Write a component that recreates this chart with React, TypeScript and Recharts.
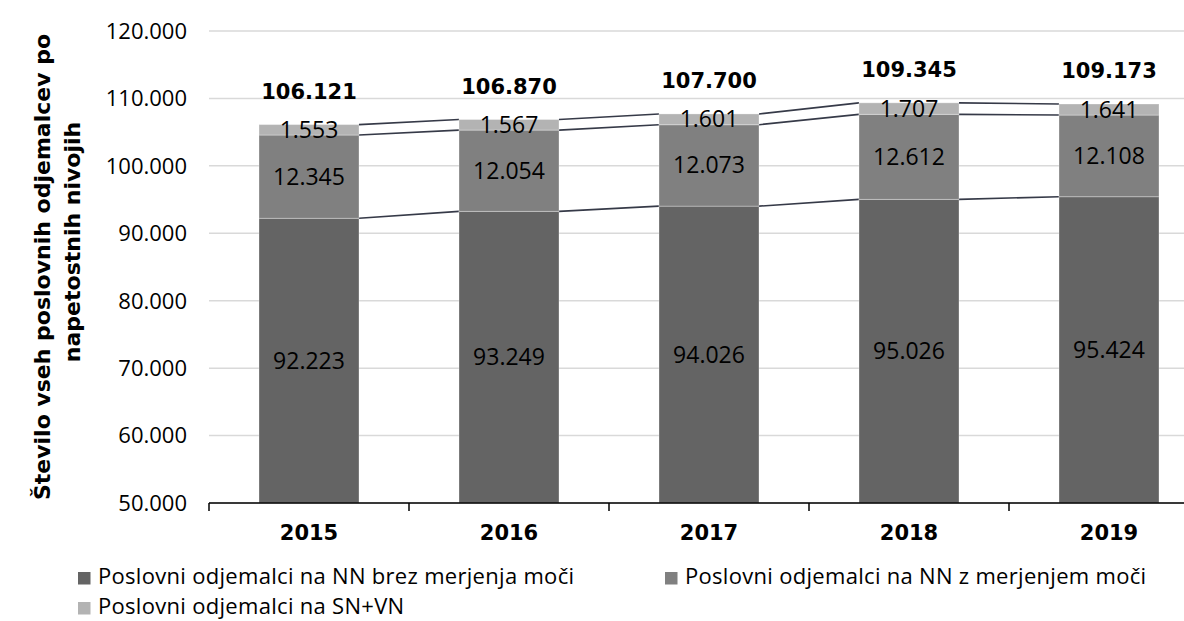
import React from 'react';
import { BarChart, Bar, XAxis, YAxis, CartesianGrid, Legend, LabelList } from 'recharts';

const years = ['2015', '2016', '2017', '2018', '2019'];
const nnBrezMerjenja = [92223, 93249, 94026, 95026, 95424];
const nnZMerjenjem = [12345, 12054, 12073, 12612, 12108];
const snVn = [1553, 1567, 1601, 1707, 1641];
const yTicks = [50000, 60000, 70000, 80000, 90000, 100000, 110000, 120000];
const seriesNames = [
  'Poslovni odjemalci na NN brez merjenja moči',
  'Poslovni odjemalci na NN z merjenjem moči',
  'Poslovni odjemalci na SN+VN',
];
const seriesColors = ['#646464', '#808080', '#b3b3b3'];

const Y_MIN = 50000;
const Y_MAX = 120000;

const REG = '"Open Sans", sans-serif';
const BOLD = '"DejaVu Sans", sans-serif';

const data = years.map((year, i) => ({
  year,
  nnBrez: nnBrezMerjenja[i],
  nnZ: nnZMerjenjem[i],
  snVn: snVn[i],
  total: nnBrezMerjenja[i] + nnZMerjenjem[i] + snVn[i],
}));

// cumulative top of each stacked layer, used for the series lines
const layerTops = [
  nnBrezMerjenja,
  nnBrezMerjenja.map((v, i) => v + nnZMerjenjem[i]),
  nnBrezMerjenja.map((v, i) => v + nnZMerjenjem[i] + snVn[i]),
];
const layerValues = [nnBrezMerjenja, nnZMerjenjem, snVn];

const fmt = (v: number) => String(v).replace(/\B(?=(\d{3})+(?!\d))/g, '.');

// bar segment + series line to the next bar (bar is half the band, so next bar starts 2 widths on)
const makeShape = (layer: number) => (props: any) => {
  const { x, y, width, height, index, fill, background } = props;
  const tops = layerTops[layer];
  let k: number;
  if (background && background.height) k = background.height / (Y_MAX - Y_MIN);
  else if (layer === 0) k = height / (tops[index] - Y_MIN);
  else k = height / layerValues[layer][index];
  const hasNext = index < tops.length - 1;
  return (
    <g>
      <rect x={x} y={y} width={width} height={height} fill={fill} stroke="#ffffff" strokeOpacity={0.3} strokeWidth={1} />
      {hasNext && (
        <line
          x1={x + width}
          y1={y}
          x2={x + 2 * width}
          y2={y + (tops[index] - tops[index + 1]) * k}
          stroke="#363a48"
          strokeWidth={1.6}
        />
      )}
    </g>
  );
};

const box = (props: any) => {
  const vb = props.viewBox && props.viewBox.width !== undefined ? props.viewBox : props;
  return { x: Number(vb.x), y: Number(vb.y), width: Number(vb.width), height: Number(vb.height) };
};

const CenterLabel = (props: any) => {
  const { x, y, width, height } = box(props);
  return (
    <text x={x + width / 2} y={y + height / 2 + 8} textAnchor="middle" fontFamily={REG} fontSize={23} fill="#000">
      {fmt(Number(props.value))}
    </text>
  );
};

const TotalLabel = (props: any) => {
  const { x, y, width } = box(props);
  return (
    <text x={x + width / 2} y={y - 26} textAnchor="middle" fontFamily={BOLD} fontWeight="bold" fontSize={21} fill="#000">
      {fmt(Number(props.value))}
    </text>
  );
};

const YearTick = (props: any) => {
  const { x, y, payload, index, width, visibleTicksCount } = props;
  const step = width && visibleTicksCount ? width / visibleTicksCount : 200;
  const last = index === (visibleTicksCount || years.length) - 1;
  return (
    <g>
      <line x1={x - step / 2} x2={x - step / 2} y1={y} y2={y + 8} stroke="#000" strokeWidth={1.5} />
      {last && <line x1={x + step / 2} x2={x + step / 2} y1={y} y2={y + 8} stroke="#000" strokeWidth={1.5} />}
      <text x={x} y={y + 37} textAnchor="middle" fontFamily={BOLD} fontWeight="bold" fontSize={21} fill="#000">
        {payload.value}
      </text>
    </g>
  );
};

const YTitle = (props: any) => {
  const vb = props.viewBox || { x: 0, y: 31, width: 209, height: 472 };
  const cy = vb.y + vb.height / 2;
  const l1x = vb.x + 50;
  const l2x = vb.x + 80;
  const l2y = cy - 25;
  return (
    <g fontFamily={BOLD} fontWeight="bold" fontSize={22} fill="#000">
      <text x={l1x} y={cy} textAnchor="middle" transform={`rotate(-90, ${l1x}, ${cy})`}>
        Število vseh poslovnih odjemalcev po
      </text>
      <text x={l2x} y={l2y} textAnchor="middle" transform={`rotate(-90, ${l2x}, ${l2y})`}>
        napetostnih nivojih
      </text>
    </g>
  );
};

const LEGEND_H = 66;

const LegendBox = () => {
  const items = [
    { x: 78, y: 8 },
    { x: 665, y: 8 },
    { x: 78, y: 38 },
  ];
  return (
    <svg width={1184} height={LEGEND_H} style={{ display: 'block' }}>
      {seriesNames.map((name, i) => (
        <g key={name}>
          <rect x={items[i].x} y={items[i].y + 9} width={12.5} height={12.5} fill={seriesColors[i]} />
          <text x={items[i].x + 20} y={items[i].y + 21} fontFamily={REG} fontSize={22} letterSpacing={0.3} fill="#000">
            {name}
          </text>
        </g>
      ))}
    </svg>
  );
};

export default function App() {
  return (
    <div style={{ position: 'absolute', left: 0, top: 0, width: 1184, height: 621, overflow: 'hidden', background: '#fff' }}>
      <BarChart
        width={1230}
        height={621}
        data={data}
        margin={{ top: 31, right: 21, bottom: 0, left: 0 }}
        barCategoryGap="25%"
      >
        <CartesianGrid vertical={false} stroke="#d9d9d9" strokeWidth={1.5} />
        <XAxis
          dataKey="year"
          height={118 - LEGEND_H}
          axisLine={{ stroke: '#000', strokeWidth: 1.5 }}
          tickLine={false}
          tickSize={0}
          tickMargin={0}
          tick={<YearTick />}
          interval={0}
        />
        <YAxis
          width={209}
          domain={[Y_MIN, Y_MAX]}
          ticks={yTicks}
          allowDataOverflow
          axisLine={false}
          tickLine={false}
          tickSize={0}
          tickMargin={22}
          tickFormatter={fmt}
          tick={{ fontFamily: REG, fontSize: 22, fill: '#000' }}
          label={<YTitle />}
        />
        <Legend
          verticalAlign="bottom"
          align="left"
          wrapperStyle={{ left: 0, bottom: 0, width: 1184, height: LEGEND_H }}
          content={() => <LegendBox />}
        />
        <Bar dataKey="nnBrez" name={seriesNames[0]} stackId="a" fill={seriesColors[0]} shape={makeShape(0)} isAnimationActive={false}>
          <LabelList dataKey="nnBrez" content={<CenterLabel />} />
        </Bar>
        <Bar dataKey="nnZ" name={seriesNames[1]} stackId="a" fill={seriesColors[1]} shape={makeShape(1)} isAnimationActive={false}>
          <LabelList dataKey="nnZ" content={<CenterLabel />} />
        </Bar>
        <Bar dataKey="snVn" name={seriesNames[2]} stackId="a" fill={seriesColors[2]} shape={makeShape(2)} isAnimationActive={false}>
          <LabelList dataKey="snVn" content={<CenterLabel />} />
          <LabelList dataKey="total" content={<TotalLabel />} />
        </Bar>
      </BarChart>
    </div>
  );
}
